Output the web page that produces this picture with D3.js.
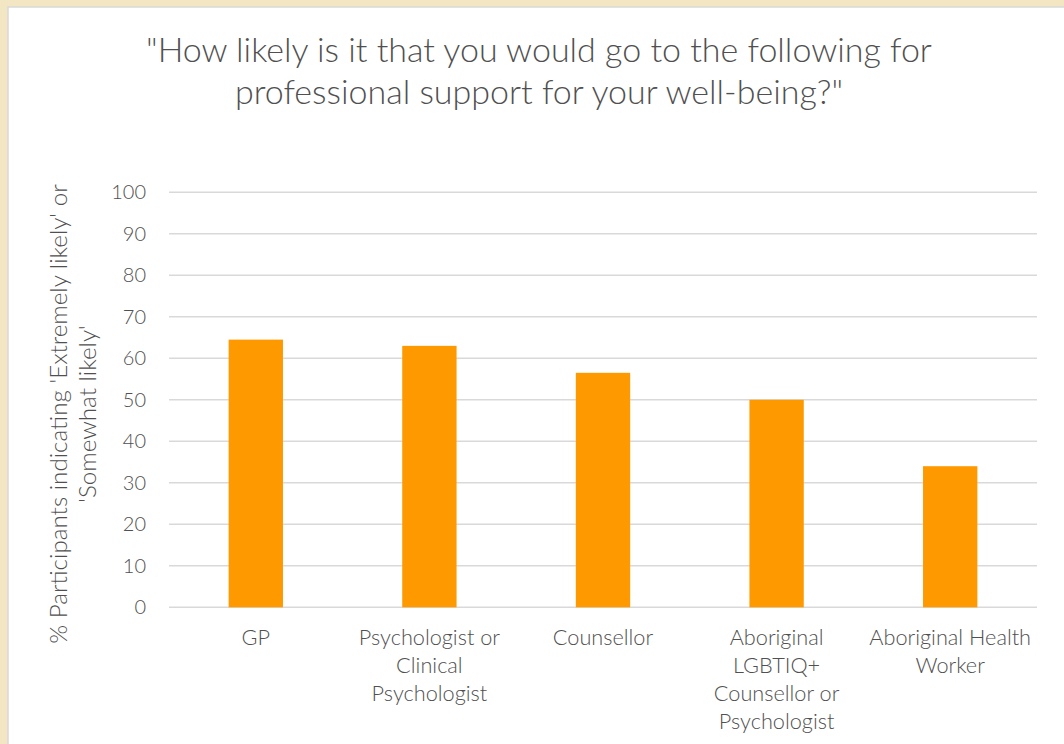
<!DOCTYPE html>
<html>
<head>
<meta charset="utf-8">
<script src="https://cdn.jsdelivr.net/npm/d3@7"></script>
<style>
  html, body { margin: 0; padding: 0; background: #F2E6C3; }
  svg { display: block; }
  text { font-family: Lato, "Open Sans", sans-serif; fill: #505050; font-weight: 300; }
</style>
</head>
<body>
<svg id="chart" width="1064" height="744"></svg>
<script>
const categories = [
  ["GP"],
  ["Psychologist or", "Clinical", "Psychologist"],
  ["Counsellor"],
  ["Aboriginal", "LGBTIQ+", "Counsellor or", "Psychologist"],
  ["Aboriginal Health", "Worker"]
];
const values = [64.5, 63, 56.5, 50, 34];
const yTicks = [0, 10, 20, 30, 40, 50, 60, 70, 80, 90, 100];
const titleLines = ["\"How likely is it that you would go to the following for", "professional support for your well-being?\""];
const yTitleLines = ["% Participants indicating 'Extremely likely' or", "'Somewhat likely'"];

const svg = d3.select("#chart");
svg.append("rect").attr("x", 8).attr("y", 7).attr("width", 1064).attr("height", 744)
  .attr("fill", "#ffffff").attr("stroke", "#D9D9D9").attr("stroke-width", 1.5);

const pLeft = 169, pRight = 1037, pTop = 192.3, pBottom = 607.3;
const idx = categories.map((d, i) => i);
const x = d3.scaleBand().domain(idx).range([pLeft, pRight]).paddingInner(0.687).paddingOuter(0.3435);
const y = d3.scaleLinear().domain([0, 100]).range([pBottom, pTop]);

// gridlines
svg.append("g").selectAll("line").data(yTicks).join("line")
  .attr("x1", pLeft).attr("x2", pRight)
  .attr("y1", d => y(d)).attr("y2", d => y(d))
  .attr("stroke", "#D9D9D9").attr("stroke-width", 1.5);

// y axis labels
const yAxis = d3.axisLeft(y).tickValues(yTicks).tickSize(0).tickPadding(0);
const ga = svg.append("g").attr("transform", `translate(146,0)`).call(yAxis);
ga.select(".domain").remove();
ga.selectAll("text").attr("font-size", 20).attr("fill", "#505050")
  .style("font-family", "Lato, 'Open Sans', sans-serif").style("font-weight", 300);

// bars
svg.append("g").selectAll("rect").data(values).join("rect")
  .attr("x", (d, i) => x(i)).attr("width", x.bandwidth())
  .attr("y", d => y(d)).attr("height", d => y(0) - y(d))
  .attr("fill", "#FF9900");

// category labels
const cg = svg.append("g");
categories.forEach((lines, i) => {
  const t = cg.append("text").attr("text-anchor", "middle").attr("font-size", 21.7)
    .attr("x", x(i) + x.bandwidth() / 2).attr("y", 645);
  lines.forEach((l, j) => t.append("tspan").attr("x", x(i) + x.bandwidth() / 2).attr("dy", j === 0 ? 0 : 28).text(l));
});

// title
const tt = svg.append("text").attr("text-anchor", "middle").attr("font-size", 34).attr("y", 62);
titleLines.forEach((l, j) => tt.append("tspan").attr("x", 539).attr("dy", j === 0 ? 0 : 42).text(l));

// y title
const yt = svg.append("text").attr("text-anchor", "middle").attr("font-size", 24.2)
  .attr("transform", "translate(67,414) rotate(-90)");
yTitleLines.forEach((l, j) => yt.append("tspan").attr("x", 0).attr("dy", j === 0 ? 0 : 28.5).text(l));
</script>
</body>
</html>
